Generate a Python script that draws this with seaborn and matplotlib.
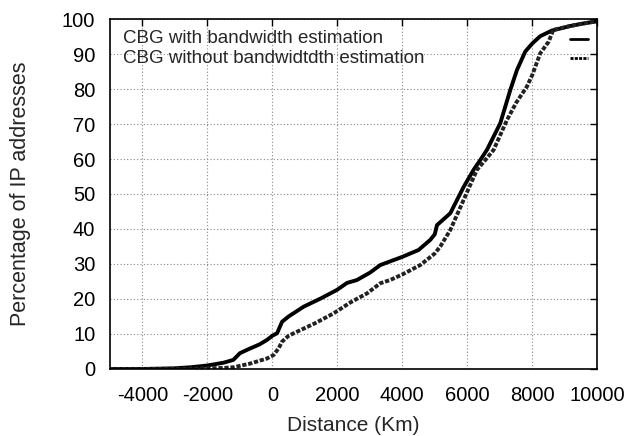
import matplotlib
matplotlib.use("Agg")
import matplotlib.pyplot as plt
import seaborn as sns

# CDF of error distance
dist_with = [-5000, -4000, -3000, -2500, -2000, -1500, -1200, -1000, -700, -400, -165, 0, 145, 300, 500,
             963, 1500, 1990, 2300, 2600, 3000, 3323, 3990, 4500, 4862, 5000, 5067, 5477, 5887, 6194,
             6400, 6605, 7015, 7323, 7528, 7785, 8000, 8246, 8606, 9169, 9500, 9887, 10000]
pct_with = [0, 0, 0.2, 0.5, 1.0, 1.8, 2.6, 4.5, 5.8, 7.0, 8.3, 9.5, 10.2, 13.5, 15,
            17.8, 20.2, 22.6, 24.6, 25.4, 27.5, 29.7, 32, 34, 36.9, 38.5, 41.1, 44.5, 52, 56.9,
            59.7, 62.6, 70.2, 79.7, 85.4, 90.7, 93, 95.1, 96.7, 98, 98.6, 99.2, 99.3]

dist_without = [-5000, -3000, -2000, -1500, -1190, -700, -165, 40, 200, 298, 500, 862, 1300, 1887,
                2400, 2913, 3323, 3620, 4000, 4554, 5000, 5169, 5477, 5887, 6297, 6554, 6810, 7220,
                7500, 7836, 8000, 8246, 8503, 8606, 8646, 8800, 9169, 9500, 9887, 10000]
pct_without = [0, 0, 0.2, 0.3, 0.5, 1.5, 3, 4, 6, 7.8, 9.5, 11.1, 13, 15.9,
               19, 21.6, 24.5, 25.4, 27, 29.7, 33, 35, 39.7, 48.3, 56.9, 59.7, 62.6, 71.1,
               76, 80.7, 84, 90.2, 93.5, 95.9, 96.9, 97.2, 98, 98.6, 99.2, 99.3]

labels = ["CBG with bandwidth estimation", "CBG without bandwidtdth estimation"]

sns.set_style("white")
plt.rcParams['font.family'] = ['Liberation Sans', 'DejaVu Sans']
plt.rcParams['axes.unicode_minus'] = False

fig = plt.figure(figsize=(6.28, 4.36), dpi=100)
ax = fig.add_axes([0.175, 0.1537, 0.776, 0.8027])

sns.lineplot(x=dist_with, y=pct_with, ax=ax, color='black', lw=2.8, sort=False)
sns.lineplot(x=dist_without, y=pct_without, ax=ax, color='#222222', lw=2.8, sort=False)
ax.lines[-1].set_dashes((1.1, 0.45))

ax.set_xlim(-5000, 10000)
ax.set_ylim(0, 100)
ax.set_xticks(range(-4000, 10001, 2000))
ax.set_yticks(range(0, 101, 10))
ax.grid(True, color='#888888', linestyle=(0, (1, 2)), lw=0.8)
for s in ax.spines.values():
    s.set_color('black')
    s.set_linewidth(1.2)
ax.tick_params(direction='in', length=5, width=1, labelsize=14.5, colors='black',
               top=True, right=True)
ax.tick_params(axis='x', pad=12)
ax.tick_params(axis='y', pad=10.5)
ax.set_xlabel("Distance (Km)", fontsize=15)
ax.set_ylabel("Percentage of IP addresses", fontsize=15.5)
ax.yaxis.set_label_coords(-0.162, 0.5)
ax.xaxis.set_label_coords(0.5, -0.135)

# gnuplot-style key: text on the left, line samples on the right
for i, (lab, ls) in enumerate(zip(labels, ['-', (0, (1.1, 0.45))])):
    yy = 0.943 - i * 0.055
    ax.text(0.027, yy, lab, transform=ax.transAxes, fontsize=13.5, va='center', ha='left')
    ax.plot([0.945, 0.982], [yy, yy], transform=ax.transAxes, color='black', lw=2, linestyle=ls)

fig.savefig("out.png", dpi=100)
